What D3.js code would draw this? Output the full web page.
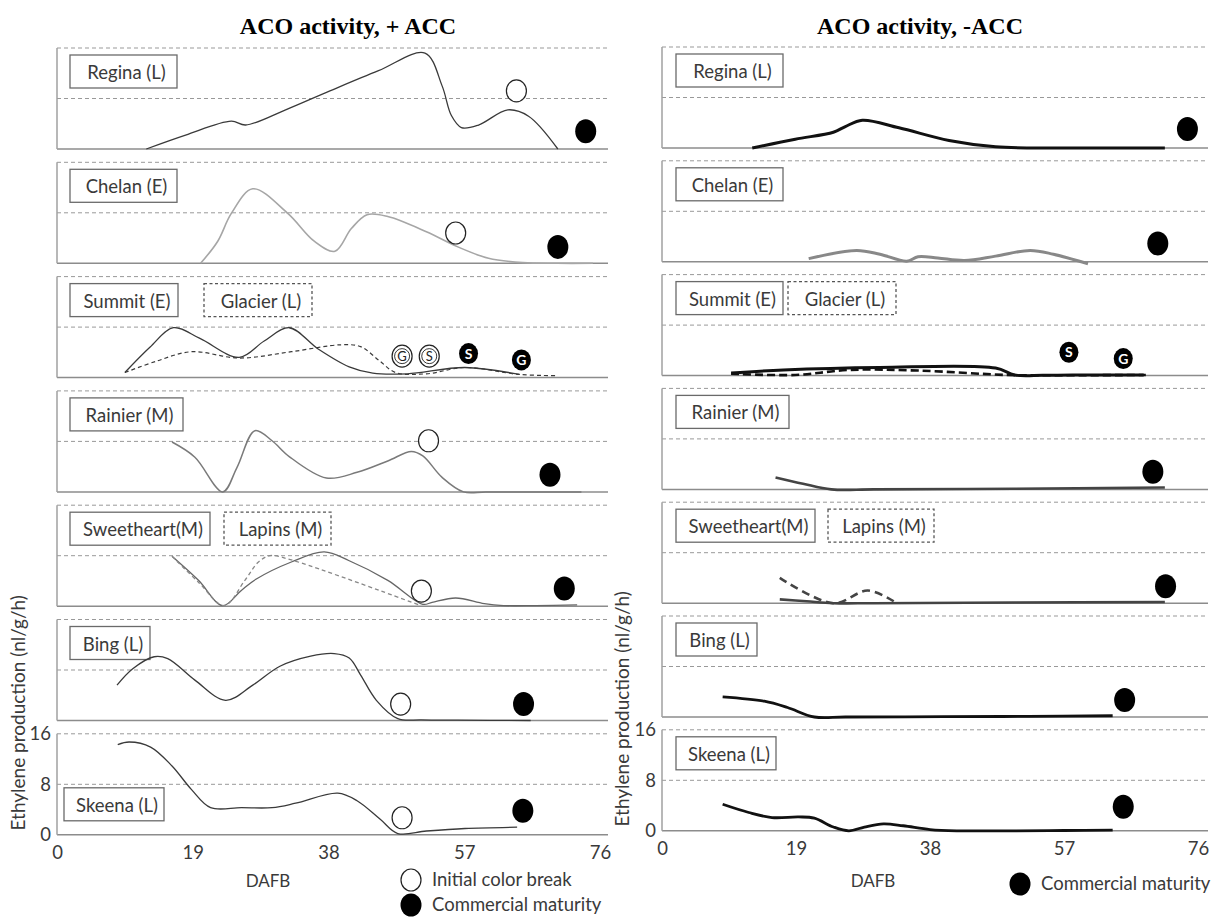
<!DOCTYPE html>
<html>
<head>
<meta charset="utf-8">
<script src="https://cdn.jsdelivr.net/npm/d3@7"></script>
<style>
  body { margin: 0; background: #fff; }
  svg text { font-family: Lato, "Open Sans", sans-serif; fill: #3a3a3a; }
  .title { font-family: "Liberation Serif", "Times New Roman", serif; font-weight: bold; font-size: 24px; fill: #000; }
</style>
</head>
<body>
<svg id="chart" width="1221" height="920"></svg>
<script>
// ---- data: [DAFB, ethylene nl/g/h] ----
const dafbTicks = [0, 19, 38, 57, 76];
const valueTicks = [0, 8, 16];
const cultivars = ["Regina (L)", "Chelan (E)", "Summit (E)", "Rainier (M)", "Sweetheart(M)", "Bing (L)", "Skeena (L)"];
const secondCultivars = ["", "", "Glacier (L)", "", "Lapins (M)", "", ""];

// + ACC
const reginaPlus = [[12.5,0],[18,2.2],[24.4,4.4],[26.4,3.8],[32,6.2],[38.2,9.2],[45,12.4],[51.5,15.2],[53.9,10],[55.2,5.3],[56.6,3.4],[59,3.8],[63.1,6.2],[66,5.2],[70.1,0]];
const chelanPlus = [[20.1,0],[22.5,3.5],[24.4,7.9],[27.4,11.8],[32.3,7.9],[36,3.5],[38.9,1.9],[41.2,5.5],[43.4,7.7],[46.3,7.4],[51.7,5.0],[56.1,2.6],[60.4,0.8],[65.2,0.1],[70,0],[75,0]];
const summitPlus = [[9.5,0.8],[13,4.8],[16.3,7.9],[20,6.2],[25.5,3.2],[29,5.8],[32.5,7.9],[36.6,4.5],[40.9,1.7],[44.2,0.7],[49,0.6],[57.1,1.6],[64.7,0.5]];
const glacierPlus = [[9.5,0.8],[13.9,2.6],[18.8,4.1],[25.5,3.1],[32.8,4.1],[39.8,5.2],[42.5,4.9],[45.2,2.6],[47.4,0.8],[51.7,0.6],[57.1,1.6],[64.7,0.5],[70.1,0.3]];
const rainierPlus = [[16.1,7.9],[19.3,5.5],[23.2,0],[25.2,3.9],[27.7,9.7],[30.1,8.1],[32.5,5.6],[37.7,2.2],[42,3.1],[46.3,4.9],[49.6,6.4],[51.2,5.7],[53.9,2.3],[56.9,0],[60,0],[66,0],[73.4,0]];
const sweetheartPlus = [[16.1,7.9],[19.8,4.1],[23.2,0.1],[25.8,2.5],[27.9,4.3],[32.8,7.0],[37.4,8.6],[40.9,7.2],[46.3,4.1],[51.2,0.3],[52.5,0.6],[55.8,1.3],[59.8,0.4],[62.5,0.1],[67,0.1],[72.8,0.2]];
const lapinsPlus = [[16.1,7.9],[19.8,3.8],[23.4,0.1],[26.3,4.1],[28.2,7.0],[29.8,8.0],[32.3,7.5],[50.9,0.1]];
const bingPlus = [[8.4,5.6],[10.6,8.2],[13.6,10.1],[15.5,9.8],[19.3,6.4],[23.6,3.2],[27.4,5.6],[31.2,8.6],[35.5,10.2],[38.8,10.6],[40.9,9.9],[42.5,7.2],[44.7,3.2],[47.7,0.3],[51,0.1],[56,0.05],[66.3,0]];
const skeenaPlus = [[8.5,14.3],[10.1,14.7],[13.1,13.9],[16.1,10.9],[18.8,7.2],[21.5,4.3],[25.8,4.3],[30.1,4.3],[33.4,5.0],[39.3,6.6],[42,5.4],[45.2,2.5],[47.7,0.2],[51.7,0.6],[57.1,1.0],[64.4,1.2]];

// - ACC
const reginaMinus = [[12.8,0],[18.9,1.4],[24.3,2.5],[26,3.4],[28.4,4.4],[33.6,3.2],[40.7,1.2],[47.3,0.2],[55.5,0],[63,0],[71.3,0]];
const chelanMinus = [[20.8,0.5],[27.6,1.8],[30.9,1.2],[34.7,0.1],[36.3,0.8],[39.1,0.6],[42.9,0.2],[47.3,0.9],[52.2,1.8],[55.5,1.2],[60.4,-0.3]];
const summitMinus = [[9.8,0.4],[17.2,0.9],[30.9,1.3],[47.3,1.2],[50,0.1],[54,0.05],[58.2,0.1],[68.3,0.1]];
const glacierMinus = [[9.8,0.3],[18.9,0.1],[26.5,0.9],[36.3,0.8],[48.9,0.1],[55,0.05],[68.6,0.1]];
const rainierMinus = [[16.1,1.9],[20,0.9],[24,0],[30,0],[50,0.1],[71.3,0.3]];
const sweetheartMinus = [[16.7,0.6],[20.5,0.3],[24.3,0],[30,0],[50,0.1],[71.3,0.2]];
const lapinsMinus = [[16.7,4.0],[24.3,0],[29.2,2.0],[33.3,0]];
const bingMinus = [[8.6,3.2],[14.5,2.5],[17.8,1.5],[21.6,0],[26,0],[40,0.05],[52,0.1],[63.9,0.2]];
const skeenaMinus = [[8.6,4.2],[12.3,2.9],[15.6,2.1],[19.4,2.2],[21.6,2.0],[24.3,0.6],[26.5,0],[28.7,0.6],[31.4,1.1],[34.2,0.8],[38,0.2],[41.8,0],[50,0],[57,0.05],[63.9,0.1]];

// markers: [row, DAFB, value, letter]
const colorBreakPlus = [[0,64.3,9.2,""],[1,55.8,4.8,""],[2,48.3,3.4,"G"],[2,52.1,3.4,"S"],[3,52,8.1,""],[4,51.0,2.4,""],[5,48.1,2.6,""],[6,48.3,2.7,""]];
const maturityPlus = [[0,74,2.8,""],[1,70.1,2.6,""],[2,57.6,3.8,"S"],[2,65,2.8,"G"],[3,69,2.7,""],[4,71,2.8,""],[5,65.3,2.6,""],[6,65.2,3.8,""]];
const maturityMinus = [[0,74.5,3.0,""],[1,70.3,2.9,""],[2,57.7,3.7,"S"],[2,65.4,2.7,"G"],[3,69.6,2.8,""],[4,71.4,2.7,""],[5,65.6,2.7,""],[6,65.4,3.8,""]];

const plusSeries = [
  {row:0, pts:reginaPlus, color:"#3a3a3a", w:1.3},
  {row:1, pts:chelanPlus, color:"#a6a6a6", w:1.6},
  {row:2, pts:summitPlus, color:"#3a3a3a", w:1.3},
  {row:2, pts:glacierPlus, color:"#3a3a3a", w:1.2, dash:"4,3"},
  {row:3, pts:rainierPlus, color:"#7a7a7a", w:1.5},
  {row:4, pts:sweetheartPlus, color:"#666", w:1.3},
  {row:4, pts:lapinsPlus, color:"#888", w:1.3, dash:"4,3"},
  {row:5, pts:bingPlus, color:"#3a3a3a", w:1.3},
  {row:6, pts:skeenaPlus, color:"#3a3a3a", w:1.3}
];
const minusSeries = [
  {row:0, pts:reginaMinus, color:"#111", w:3},
  {row:1, pts:chelanMinus, color:"#888", w:3},
  {row:2, pts:summitMinus, color:"#111", w:3},
  {row:2, pts:glacierMinus, color:"#111", w:2.6, dash:"8,4"},
  {row:3, pts:rainierMinus, color:"#444", w:2.6},
  {row:4, pts:sweetheartMinus, color:"#444", w:2.6},
  {row:4, pts:lapinsMinus, color:"#444", w:2.6, dash:"8,5"},
  {row:5, pts:bingMinus, color:"#111", w:2.8},
  {row:6, pts:skeenaMinus, color:"#111", w:2.8}
];

const svg = d3.select("#chart");

// layout for each half (label boxes were hand drawn in the original, so widths are fixed)
const sides = [
  {title:"ACO activity, + ACC", titleX:348, x0:57, x1:600, end:608, firstBottom:149, step:114.3,
   series:plusSeries, open:colorBreakPlus, filled:maturityPlus,
   boxLeft:[70,70,70,70,70,70,64], boxW:[107,107,108,113,140,80,100],
   box2Left:[0,0,204,0,224,0,0], box2W:[0,0,108,0,107,0,0], skeenaBoxLow:true, dafbX:268, yTitleX:25},
  {title:"ACO activity, -ACC", titleX:920, x0:662, x1:1198, end:1208, firstBottom:148, step:113.8,
   series:minusSeries, open:[], filled:maturityMinus,
   boxLeft:[676,676,676,676,676,676,676], boxW:[107,107,107,113,139,81,100],
   box2Left:[0,0,788,0,828,0,0], box2W:[0,0,108,0,106,0,0], skeenaBoxLow:false, dafbX:873, yTitleX:629}
];

const fontSize = 18.5;

sides.forEach(side => {
  const x = d3.scaleLinear().domain([0, 76]).range([side.x0, side.x1]);
  const yFor = i => {
    const b = side.firstBottom + i * side.step;
    return d3.scaleLinear().domain([0, 16]).range([b, b - 101]);
  };

  svg.append("text").attr("class", "title")
    .attr("x", side.titleX).attr("y", 34).attr("text-anchor", "middle").text(side.title);

  cultivars.forEach((name, i) => {
    const y = yFor(i);
    const g = svg.append("g");
    // frame: dashed at 16 and 8, solid baseline, left axis
    valueTicks.slice(1).forEach(v => {
      g.append("line").attr("x1", side.x0).attr("x2", side.end)
        .attr("y1", y(v)).attr("y2", y(v))
        .attr("stroke", "#999").attr("stroke-width", 1).attr("stroke-dasharray", "4,3");
    });
    g.append("line").attr("x1", side.x0).attr("x2", side.end)
      .attr("y1", y(0)).attr("y2", y(0)).attr("stroke", "#8c8c8c").attr("stroke-width", 1.5);
    g.append("line").attr("x1", side.x0).attr("x2", side.x0)
      .attr("y1", y(16)).attr("y2", y(0)).attr("stroke", "#a0a0a0").attr("stroke-width", 1.5);

    // cultivar label boxes
    const boxTop = (i === 6 && side.skeenaBoxLow) ? y(16) + 54 : y(16) + 7;
    const addBox = (label, left, w, dashed) => {
      g.append("rect").attr("x", left).attr("y", boxTop)
        .attr("width", w).attr("height", 33).attr("fill", "#fff")
        .attr("stroke", dashed ? "#555" : "#6a6a6a").attr("stroke-width", 1.3)
        .attr("stroke-dasharray", dashed ? "3,2.5" : null);
      g.append("text").attr("x", left + w / 2 + 3).attr("y", boxTop + 24)
        .attr("text-anchor", "middle").attr("font-size", fontSize).text(label);
    };
    addBox(name, side.boxLeft[i], side.boxW[i], false);
    if (secondCultivars[i]) addBox(secondCultivars[i], side.box2Left[i], side.box2W[i], true);

    // curves
    side.series.filter(s => s.row === i).forEach(s => {
      const line = d3.line().x(d => x(d[0])).y(d => y(d[1])).curve(d3.curveCatmullRom.alpha(0.5));
      g.append("path").attr("d", line(s.pts)).attr("fill", "none")
        .attr("stroke", s.color).attr("stroke-width", s.w)
        .attr("stroke-dasharray", s.dash || null).attr("stroke-linejoin", "round");
    });

    // stage markers
    side.open.filter(m => m[0] === i).forEach(m => {
      g.append("ellipse").attr("cx", x(m[1])).attr("cy", y(m[2]))
        .attr("rx", 10).attr("ry", 11).attr("fill", "#fff").attr("stroke", "#222").attr("stroke-width", 1.2);
      if (m[3]) {
        g.append("circle").attr("cx", x(m[1])).attr("cy", y(m[2])).attr("r", 7.5)
          .attr("fill", "none").attr("stroke", "#222").attr("stroke-width", 0.9);
        g.append("text").attr("x", x(m[1])).attr("y", y(m[2]) + 4.5).attr("text-anchor", "middle")
          .attr("font-size", 13).style("fill", "#222").text(m[3]);
      }
    });
    side.filled.filter(m => m[0] === i).forEach(m => {
      g.append("ellipse").attr("cx", x(m[1])).attr("cy", y(m[2]))
        .attr("rx", m[3] ? 9.5 : 10.5).attr("ry", m[3] ? 10.5 : 12).attr("fill", "#000");
      if (m[3]) {
        g.append("text").attr("x", x(m[1])).attr("y", y(m[2]) + 5).attr("text-anchor", "middle")
          .attr("font-size", 14).attr("font-weight", "bold").style("fill", "#fff").text(m[3]);
      }
    });

    // axes on the bottom panel only
    if (i === cultivars.length - 1) {
      const ax = g.append("g").attr("transform", `translate(0,${y(0)})`)
        .call(d3.axisBottom(x).tickValues(dafbTicks).tickSize(0).tickPadding(11));
      ax.select(".domain").remove();
      ax.selectAll("text").attr("font-size", fontSize).attr("font-family", "Lato, sans-serif").style("fill", "#3a3a3a");
      const ay = g.append("g").attr("transform", `translate(${side.x0},0)`)
        .call(d3.axisLeft(y).tickValues(valueTicks).tickSize(0).tickPadding(6));
      ay.select(".domain").remove();
      ay.selectAll("text").attr("font-size", fontSize).attr("font-family", "Lato, sans-serif").style("fill", "#3a3a3a");

      svg.append("text").attr("x", side.dafbX).attr("y", 887).attr("text-anchor", "middle")
        .attr("font-size", 17).text("DAFB");
      svg.append("text").attr("transform", `translate(${side.yTitleX},${y(0) - 122}) rotate(-90)`)
        .attr("text-anchor", "middle").attr("font-size", 19).text("Ethylene production (nl/g/h)");
    }
  });
});

// legends
const legendLeft = svg.append("g");
legendLeft.append("ellipse").attr("cx", 411).attr("cy", 880).attr("rx", 10).attr("ry", 11)
  .attr("fill", "#fff").attr("stroke", "#222").attr("stroke-width", 1.2);
legendLeft.append("text").attr("x", 432).attr("y", 886).attr("font-size", fontSize).text("Initial color break");
legendLeft.append("ellipse").attr("cx", 411).attr("cy", 905).attr("rx", 10.5).attr("ry", 11.5).attr("fill", "#000");
legendLeft.append("text").attr("x", 432).attr("y", 911).attr("font-size", fontSize).text("Commercial maturity");

const legendRight = svg.append("g");
legendRight.append("ellipse").attr("cx", 1020).attr("cy", 884).attr("rx", 10.5).attr("ry", 11.5).attr("fill", "#000");
legendRight.append("text").attr("x", 1041).attr("y", 890).attr("font-size", fontSize).text("Commercial maturity");
</script>
</body>
</html>
